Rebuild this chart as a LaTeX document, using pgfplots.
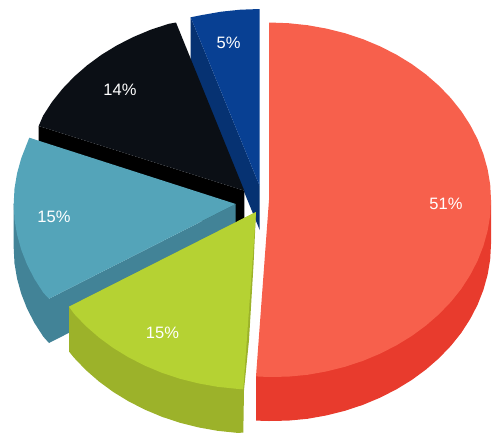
\documentclass[border=0pt]{standalone}
\usepackage{fontspec}
\setmainfont{Liberation Sans}
\usepackage{pgfplots}
\pgfplotsset{compat=1.18}
\definecolor{redtop}{HTML}{F7604C}
\definecolor{redside}{HTML}{E83B2D}
\definecolor{greentop}{HTML}{B5D233}
\definecolor{greenside}{HTML}{9CB22A}
\definecolor{tealtop}{HTML}{54A4B9}
\definecolor{tealside}{HTML}{428397}
\definecolor{blacktop}{HTML}{0B0F15}
\definecolor{blackside}{HTML}{000000}
\definecolor{bluetop}{HTML}{084093}
\definecolor{blueside}{HTML}{063272}
\tikzset{lab/.style={font=\fontsize{16.5}{18}\selectfont,text=white,inner sep=0pt}}
\begin{document}
\begin{tikzpicture}
\begin{axis}[scale only axis,width=500pt,height=442pt,xmin=0,xmax=500,ymin=0,ymax=442,y dir=reverse,
  axis line style={draw=none},ticks=none,clip=false]
% blue 5%
\addplot[draw=none,fill=blueside] coordinates {(190.7,17.3)(190.7,61)(259.7,230)(259.7,186)} --cycle;
\addplot[draw=none,fill=bluetop] coordinates {(190.7,17.3)(202.2,15)(221.1,11.7)(240.3,9.7)(259.7,9)(259.7,186)} --cycle;
% black 14%
\addplot[draw=none,fill=blackside] coordinates {(38.7,126)(38.7,170)(244.3,234.7)(244.3,190.7)} --cycle;
\addplot[draw=none,fill=blacktop] coordinates {(38.7,126)(43.1,115.7)(52,101.9)(62.4,88.9)(74.2,76.6)(87.3,65.2)(101.6,54.7)(117,45.3)(133.3,37)(150.5,29.8)(168.4,23.9)(176,22.5)(244.3,190.7)} --cycle;
% teal 15%
\addplot[draw=none,fill=tealside] coordinates {(13.7,204)(13.7,248)(14.5,263.5)(17.1,278.8)(21.3,293.9)(27.1,308.7)(34.5,323)(43.4,336.8)(49,343)(235.7,248)(235.7,204)(49,298.7)} --cycle;
\addplot[draw=none,fill=tealtop] coordinates {(29.3,137.7)(27.1,143.3)(21.3,158.1)(17.1,173.2)(14.5,188.5)(13.7,204)(14.5,219.5)(17.1,234.8)(21.3,249.9)(27.1,264.7)(34.5,279)(43.4,292.8)(49,298.7)(235.7,204)} --cycle;
% red 51%
\addplot[draw=none,fill=redside] coordinates {(491,200)(491,244)(490.2,259.5)(487.6,274.8)(483.4,289.9)(477.6,304.7)(470.2,319)(461.3,332.8)(450.9,345.8)(439.1,358.1)(426,369.5)(411.7,380)(396.3,389.4)(380,397.7)(362.8,404.9)(344.9,410.8)(326.5,415.4)(307.5,418.8)(288.4,420.6)(269,421)(256,420.6)(256,376)} --cycle;
\addplot[draw=none,fill=redtop] coordinates {(269,22.5)(288.4,23.2)(307.5,25.2)(326.5,28.6)(344.9,33.2)(362.8,39.1)(380,46.3)(396.3,54.6)(411.7,64)(426,74.5)(439.1,85.9)(450.9,98.2)(461.3,111.2)(470.2,125)(477.6,139.3)(483.4,154.1)(487.6,169.2)(490.2,184.5)(491,200)(490.2,215.5)(487.6,230.8)(483.4,245.9)(477.6,260.7)(470.2,275)(461.3,288.8)(450.9,301.8)(439.1,314.1)(426,325.5)(411.7,336)(396.3,345.4)(380,353.7)(362.8,360.9)(344.9,366.8)(326.5,371.4)(307.5,374.8)(288.4,376.6)(269,377)(256,376.4)(269,200)} --cycle;
% green 15%
\addplot[draw=none,fill=greenside] coordinates {(253.5,265)(249,340)(244,390)(243.3,432.7)(236.6,432.8)(217.5,430.8)(198.5,427.4)(180.1,422.8)(162.2,416.9)(145,409.7)(128.7,401.4)(113.3,392)(99,381.5)(85.9,370.1)(74.1,357.8)(69,351.5)(69,306.7)(256,212)} --cycle;
\addplot[draw=none,fill=greentop] coordinates {(243.3,389.3)(236.6,388.8)(217.5,386.8)(198.5,383.4)(180.1,378.8)(162.2,372.9)(145,365.7)(128.7,357.4)(113.3,348)(99,337.5)(85.9,326.1)(74.1,313.8)(69,306.7)(256,212)} --cycle;
\node[lab] at (axis cs:446,204) {51\%};
\node[lab] at (axis cs:228.5,43) {5\%};
\node[lab] at (axis cs:120,90) {14\%};
\node[lab] at (axis cs:54,217) {15\%};
\node[lab] at (axis cs:162.5,333) {15\%};
\end{axis}
\end{tikzpicture}
\end{document}
